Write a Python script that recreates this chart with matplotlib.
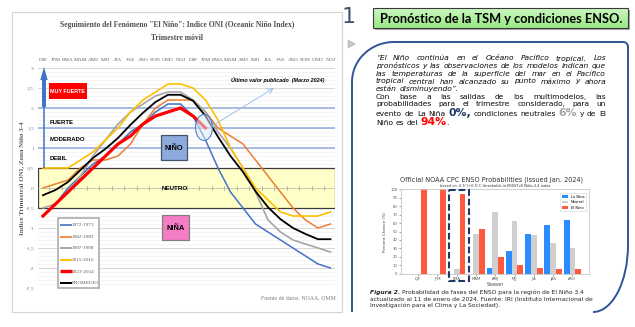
import matplotlib
matplotlib.use("Agg")
import matplotlib.pyplot as plt
from matplotlib.patches import Rectangle, Ellipse, Polygon, PathPatch
from matplotlib.path import Path
import numpy as np

W, H, DPI = 635, 327, 100

# ---------------- data ----------------
seasons = ["DJF", "JFM", "FMA", "MAM", "AMJ", "MJJ", "JJA", "JAS", "ASO", "SON", "OND", "NDJ",
           "DJF", "JFM", "FMA", "MAM", "AMJ", "MJJ", "JJA", "JAS", "ASO", "SON", "OND", "NDJ"]
oni_1972_73 = [-0.7, -0.4, 0.0, 0.3, 0.6, 0.8, 1.1, 1.4, 1.6, 1.9, 2.1, 2.1,
               1.8, 1.2, 0.5, -0.1, -0.5, -0.9, -1.1, -1.3, -1.5, -1.7, -1.9, -2.0]
oni_1982_83 = [0.0, 0.1, 0.2, 0.5, 0.7, 0.7, 0.8, 1.1, 1.6, 2.0, 2.2, 2.2,
               2.2, 1.9, 1.5, 1.3, 1.1, 0.7, 0.3, -0.1, -0.5, -0.8, -1.0, -0.9]
oni_1997_98 = [-0.5, -0.4, -0.1, 0.3, 0.8, 1.2, 1.6, 1.9, 2.1, 2.3, 2.4, 2.4,
               2.2, 1.9, 1.4, 1.0, 0.5, -0.1, -0.8, -1.1, -1.3, -1.4, -1.5, -1.6]
oni_2015_16 = [0.5, 0.5, 0.5, 0.7, 0.9, 1.2, 1.5, 1.9, 2.2, 2.4, 2.6, 2.6,
               2.5, 2.2, 1.7, 1.0, 0.5, 0.0, -0.3, -0.6, -0.7, -0.7, -0.7, -0.6]
oni_2023_24 = [-0.7, -0.4, -0.1, 0.2, 0.5, 0.8, 1.1, 1.3, 1.6, 1.8, 1.9, 2.0, 1.8, 1.5]
oni_promedio = [-0.18, -0.05, 0.15, 0.45, 0.75, 0.98, 1.25, 1.58, 1.88, 2.15, 2.33, 2.33,
                2.18, 1.80, 1.28, 0.80, 0.40, -0.08, -0.48, -0.78, -1.00, -1.15, -1.28, -1.28]
series_labels = ["1972-1973", "1982-1983", "1997-1998", "2015-2016", "2023-2024", "PROMEDIO"]
y_ticks = [3, 2.5, 2, 1.5, 1, 0.5, 0, -0.5, -1, -1.5, -2, -2.5]
y_tick_labels = ["3", "2,5", "2", "1,5", "1", "0,5", "0", "-0,5", "-1", "-1,5", "-2", "-2,5"]

prob_seasons = ["DJF", "JFM", "FMA", "MAM", "AMJ", "MJJ", "JJA", "JAS", "ASO"]
prob_la_nina = [0, 0, 0, 0, 7, 27, 47, 58, 64]
prob_neutral = [0, 0, 6, 47, 73, 63, 46, 36, 30]
prob_el_nino = [100, 100, 94, 53, 20, 10, 7, 6, 6]
prob_ticks = [0, 10, 20, 30, 40, 50, 60, 70, 80, 90, 100]

# ---------------- figure ----------------
fig = plt.figure(figsize=(W / DPI, H / DPI), dpi=DPI)
fig.patch.set_facecolor("white")
renderer = fig.canvas.get_renderer()


def axes_px(x0, y0, x1, y1):
    return [x0 / W, 1 - y1 / H, (x1 - x0) / W, (y1 - y0) / H]


bg = fig.add_axes([0, 0, 1, 1], zorder=0)
bg.set_xlim(0, W); bg.set_ylim(H, 0); bg.axis("off")

SERIF = ["Liberation Serif", "DejaVu Serif"]
NARROW = ["Liberation Sans Narrow", "Liberation Sans", "DejaVu Sans"]
SANS = ["Lato", "DejaVu Sans"]
BODY = ["DejaVu Sans"]


def text_width(s, **kw):
    t = bg.text(0, 0, s, **kw)
    w = t.get_window_extent(renderer).width
    t.remove()
    return w


# left panel frame
bg.add_patch(Rectangle((12, 12), 330, 300, fc="white", ec="#D4D4D4", lw=0.8))
bg.text(177, 25, 'Seguimiento del Fenómeno "El Niño": Indice ONI (Oceanic Niño Index)',
        ha="center", va="center", family=SERIF, weight="bold", fontsize=5.5, color="#505050")
bg.text(177, 38, "Trimestre móvil", ha="center", va="center", family=SERIF,
        weight="bold", fontsize=5.5, color="#505050")
bg.text(22, 178, "Indice Trimestral ONI, Zona Niño 3-4", rotation=90, ha="center", va="center",
        family=SERIF, weight="bold", fontsize=5.0, color="#606060")
bg.text(336, 298, "Fuente de datos: NOAA, OMM", ha="right", va="center", family=SERIF,
        fontsize=4.2, color="#7F7F7F")

# ---------------- left chart ----------------
ax = fig.add_axes(axes_px(38, 68, 335, 288), zorder=1)
ax.set_facecolor("none")
ax.set_xlim(-0.4, 23.36)
ax.set_ylim(-2.5, 3.0)
for s in ax.spines.values():
    s.set_visible(False)
x = np.arange(len(seasons))

for v in np.arange(-2.5, 3.01, 0.1):
    ax.axhline(v, color="#F0F0F0", lw=0.5, zorder=0.2)
for v in y_ticks:
    if v in (2, 1.5, 1):
        ax.axhline(v, color="#8FAADC", lw=1.1, zorder=0.4)
    else:
        ax.axhline(v, color="#D9D9D9", lw=0.7, zorder=0.3)
ax.axhspan(-0.5, 0.5, fc="#FFFFC8", ec="#3A3A3A", lw=0.9, zorder=0.6)
ax.axhline(0, color="#BFBFBF", lw=0.6, zorder=0.7)
for xi in np.arange(0.5, 23, 1.0):
    ax.plot([xi, xi], [-0.04, 0.04], color="#A0A0A0", lw=0.5, zorder=0.7)

line_specs = [
    (oni_1972_73, "#4472C4", 1.1),
    (oni_1982_83, "#ED7D31", 1.1),
    (oni_1997_98, "#A5A5A5", 1.2),
    (oni_2015_16, "#FFC000", 1.2),
    (oni_promedio, "#000000", 1.3),
    (oni_2023_24, "#FF0000", 2.3),
]
for vals, col, lw in line_specs:
    ax.plot(x[:len(vals)], vals, color=col, lw=lw, zorder=2, solid_joinstyle="miter")

ax.set_xticks(x)
ax.set_xticklabels(seasons)
ax.xaxis.tick_top()
ax.tick_params(axis="x", length=0, pad=4, labelsize=3.9, labelcolor="#595959")
ax.set_yticks(y_ticks)
ax.set_yticklabels(y_tick_labels)
ax.tick_params(axis="y", length=0, pad=3, labelsize=3.9, labelcolor="#7F7F7F")
for t in ax.get_xticklabels() + ax.get_yticklabels():
    t.set_family(SERIF)

# ---------------- right panel ----------------
bg.text(349, 17, "1", ha="center", va="center", fontsize=16, color="#3E5370",
        family=["DejaVu Sans"])
bg.add_patch(Rectangle((375, 10), 255, 20, fc="#A8A8A8", ec="none"))
grad = np.linspace(0, 1, 50).reshape(-1, 1)
top_c = np.array([0.80, 0.97, 0.76]); bot_c = np.array([0.60, 0.91, 0.52])
img = top_c[None, None, :] * (1 - grad[:, :, None]) + bot_c[None, None, :] * grad[:, :, None]
bg.imshow(img, extent=(373, 628, 28, 8), aspect="auto", zorder=1)
bg.add_patch(Rectangle((373, 8), 255, 20, fc="none", ec="#3A3A3A", lw=0.8, zorder=2))
bg.text(501, 19, "Pronóstico de la TSM y condiciones ENSO.", ha="center", va="center",
        family=SANS, weight="bold", fontsize=9.2, color="black", zorder=3)
bg.set_xlim(0, W); bg.set_ylim(H, 0)
bg.add_patch(Polygon([(348, 40), (355.5, 44), (348, 48)], closed=True, fc="#C8C8C8", ec="#B0B0B0", lw=0.4))

k = 0.5523
verts = [(352, 312), (352, 82),
         (352, 82 - 40 * k), (394 - 42 * k, 42), (394, 42),
         (623, 42),
         (626, 42), (628, 44), (628, 47),
         (628, 245),
         (628, 245 + 67 * k), (593 + 35 * k, 312), (593, 312)]
codes = [Path.MOVETO, Path.LINETO,
         Path.CURVE4, Path.CURVE4, Path.CURVE4,
         Path.LINETO,
         Path.CURVE4, Path.CURVE4, Path.CURVE4,
         Path.LINETO,
         Path.CURVE4, Path.CURVE4, Path.CURVE4]
bg.add_patch(PathPatch(Path(verts, codes), fc="none", ec="#2F5597", lw=1.4))


def draw_line(axh, words, x0, x1, y, justify, space_px):
    items = []
    total = 0.0
    for w in words:
        parts = []
        ww = 0.0
        for s, kw in w:
            wd = text_width(s, **kw)
            t = axh.text(0, y, s, ha="left", va="baseline", **kw)
            parts.append((t, wd)); ww += wd
        items.append(parts); total += ww
    n = len(items)
    gap = (x1 - x0 - total) / (n - 1) if (justify and n > 1) else space_px
    xx = x0
    for parts in items:
        for t, wd in parts:
            t.set_x(xx); xx += wd
        xx += gap


def words_of(s, kw):
    return [[(w, kw)] for w in s.split()]


quote_lines = [
    "“El Niño continúa en el Océano Pacífico tropical. Los",
    "pronósticos y las observaciones de los modelos indican que",
    "las temperaturas de la superficie del mar en el Pacífico",
    "tropical central han alcanzado su punto máximo y ahora",
    "están disminuyendo”.",
]
w6 = text_width(quote_lines[1], family=BODY, style="italic", fontsize=6.0)
FS = round(6.0 * 226.0 / w6, 1)
q_kw = dict(family=BODY, style="italic", fontsize=FS, color="#0A0A0A")
n_kw = dict(family=BODY, fontsize=FS, color="#0A0A0A")
sp = text_width("a a", **n_kw) - text_width("aa", **n_kw)

base_y = [60.5, 68.3, 75.9, 83.5, 91.3, 98.9, 106.3, 115.6, 125.0]
for i, s in enumerate(quote_lines):
    draw_line(bg, words_of(s, q_kw), 376, 606, base_y[i], i < 4, sp)
draw_line(bg, words_of("Con base a las salidas de los multimodelos, las", n_kw), 376, 606, base_y[5], True, sp)
draw_line(bg, words_of("probabilidades para el trimestre considerado, para un", n_kw), 376, 606, base_y[6], True, sp)
big = dict(family=BODY, weight="bold", fontsize=round(FS * 1.45, 1))
l8 = (words_of("evento de La Niña", n_kw) + [[("0%,", dict(big, color="#1F3864"))]]
      + words_of("condiciones neutrales", n_kw) + [[("6%", dict(big, color="#A6A6A6"))]]
      + words_of("y de El", n_kw))
draw_line(bg, l8, 376, 606, base_y[7], True, sp)
l9 = words_of("Niño es del", n_kw) + [[("94%", dict(big, color="#FF0000")), (".", n_kw)]]
draw_line(bg, l9, 376, 606, base_y[8], False, sp)

# caption
cap1 = "Probabilidad de fases del ENSO para la región de El Niño 3.4"
c_kw0 = dict(family=BODY, fontsize=5.0, color="#222222")
wc = text_width("Figura 2. " + cap1, **c_kw0)
CFS = round(5.0 * 207.0 / wc, 1)
c_kw = dict(family=BODY, fontsize=CFS, color="#222222")
cb_kw = dict(family=BODY, fontsize=CFS, color="#222222", weight="bold", style="italic")
cap_lines = ["actualizado al 11 de enero de 2024. Fuente: IRI (Instituto Internacional de",
             "Investigación para el Clima y La Sociedad)."]
wfig = text_width("Figura 2. ", **cb_kw)
bg.text(370, 294, "Figura 2.", ha="left", va="baseline", **cb_kw)
bg.text(370 + wfig, 294, cap1, ha="left", va="baseline", **c_kw)
bg.text(370, 300.5, cap_lines[0], ha="left", va="baseline", **c_kw)
bg.text(370, 307, cap_lines[1], ha="left", va="baseline", **c_kw)

bg.text(492, 180, "Official NOAA CPC ENSO Probabilities (issued Jan. 2024)", ha="center", va="center",
        family=["DejaVu Sans"], fontsize=4.7, color="#333333")
bg.text(495, 186.3, "based on -0.5°/+0.5°C thresholds in ERSSTv5 Niño-3.4 index", ha="center",
        va="center", family=["DejaVu Sans"], fontsize=2.6, color="#333333")

# ---------------- bar chart ----------------
ax2 = fig.add_axes(axes_px(400.7, 189.3, 589, 273.7), zorder=1)
xb = np.arange(len(prob_seasons))
bw = 0.30
ax2.bar(xb - bw, prob_la_nina, bw, color="#2B8CFF", label="La Nina", zorder=2)
ax2.bar(xb, prob_neutral, bw, color="#CFCFCF", label="Neutral", zorder=2)
ax2.bar(xb + bw, prob_el_nino, bw, color="#FF5A3D", label="El Nino", zorder=2)
ax2.set_xlim(-0.9, 8.86)
ax2.set_ylim(0, 100)
ax2.set_xticks(xb)
ax2.set_xticklabels(prob_seasons)
ax2.set_yticks(prob_ticks)
ax2.tick_params(labelsize=2.7, length=1.2, width=0.4, pad=1.2, colors="#555555")
for s in ax2.spines.values():
    s.set_color("#C8C8C8"); s.set_linewidth(0.6)
ax2.set_ylabel("Percent Chance (%)", fontsize=3.0, color="#444444", labelpad=2)
ax2.set_xlabel("Season", fontsize=3.4, color="#444444", labelpad=0.5)
leg = ax2.legend(loc="upper right", fontsize=2.6, handlelength=1.6, handleheight=0.8,
                 borderpad=0.5, labelspacing=0.35, frameon=True, fancybox=False,
                 bbox_to_anchor=(0.995, 0.975))
leg.get_frame().set_linewidth(0.4); leg.get_frame().set_edgecolor("#CCCCCC")

# ---------------- foreground overlay ----------------
fg = fig.add_axes([0, 0, 1, 1], zorder=3)
fg.set_xlim(0, W); fg.set_ylim(H, 0); fg.axis("off")

fg.add_patch(Rectangle((449.3, 189.5), 20, 91.5, fc="none", ec="#1F3864", lw=1.5,
                       ls=(0, (3.2, 1.4))))

fg.plot([44, 44], [168, 106], color="#4472C4", lw=1.1, solid_capstyle="butt")
fg.add_patch(Rectangle((42.2, 79), 3.6, 28, fc="#4472C4", ec="none"))
fg.add_patch(Polygon([(40.3, 80), (47.7, 80), (44, 67)], closed=True, fc="#4472C4", ec="none"))

lab_kw = dict(family=NARROW, weight="bold", fontsize=4.3, color="black", va="center", ha="left")
fg.add_patch(Rectangle((49, 83), 38, 16, fc="#FF0000", ec="none"))
fg.text(68, 91.3, "MUY FUERTE", family=NARROW, weight="bold", fontsize=3.9, color="white",
        ha="center", va="center")
fg.text(50, 122, "FUERTE", **lab_kw)
fg.text(50, 139.5, "MODERADO", **lab_kw)
fg.text(50, 158.5, "DEBIL", **lab_kw)
fg.add_patch(Rectangle((161, 135), 26, 25, fc="#8EA9DB", ec="#44546A", lw=0.9))
fg.text(174, 148, "NIÑO", family=NARROW, weight="bold", fontsize=5.4, ha="center", va="center")
fg.add_patch(Rectangle((162, 215), 27, 25, fc="#F57DC3", ec="#808080", lw=0.9))
fg.text(175.5, 228, "NIÑA", family=NARROW, weight="bold", fontsize=5.4, ha="center", va="center")
fg.text(175, 188.5, "NEUTRO", family=NARROW, weight="bold", fontsize=4.5, ha="center", va="center")

fg.add_patch(Ellipse((204, 127.5), 17, 26, fc="#DDEBF7", ec="none", alpha=0.55))
fg.add_patch(Ellipse((204, 127.5), 17, 26, fc="none", ec="#4472C4", lw=0.7))
fg.annotate("", xy=(274, 88), xytext=(212, 126),
            arrowprops=dict(arrowstyle="->", color="#9DC3E6", lw=0.7, shrinkA=0, shrinkB=0))
fg.text(278, 80, "Último valor publicado  (Marzo 2024)", family=NARROW, weight="bold",
        style="italic", fontsize=3.9, ha="center", va="center", color="black")

fg.add_patch(Rectangle((58.3, 218.3), 40.7, 69.4, fc="white", ec="#A6A6A6", lw=1.1))
leg_y = [225, 236.5, 248, 259.7, 271.3, 282.7]
leg_specs = [("#4472C4", 1.2), ("#ED7D31", 1.2), ("#A5A5A5", 1.4), ("#FFC000", 1.4),
             ("#FF0000", 2.4), ("#000000", 1.4)]
for yy, lbl, (col, lw) in zip(leg_y, series_labels, leg_specs):
    fg.plot([60, 71.5], [yy, yy], color=col, lw=lw, solid_capstyle="butt")
    fg.text(72, yy + 0.3, lbl, family=SERIF, fontsize=3.7, color="#595959", va="center", ha="left")

fig.savefig("out.png", dpi=DPI, facecolor="white")
